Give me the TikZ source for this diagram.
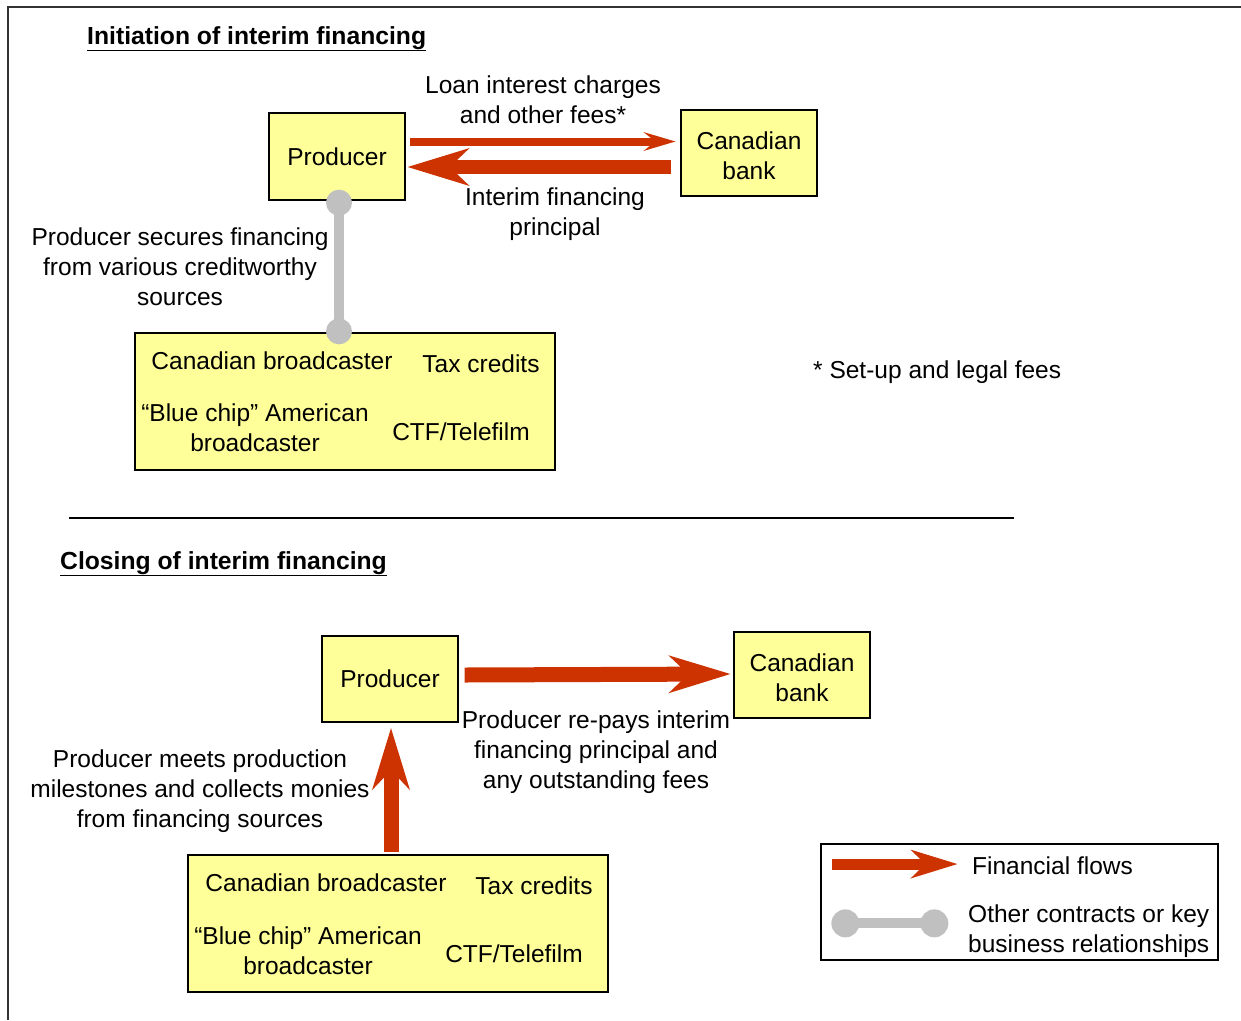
\documentclass[tikz,border=0pt]{standalone}
\usepackage{fontspec}
\setmainfont{Liberation Sans}
\usetikzlibrary{arrows.meta}
\definecolor{boxyellow}{HTML}{FFFF99}
\definecolor{flowred}{HTML}{CC3300}
\definecolor{relgray}{HTML}{C0C0C0}
\definecolor{framegray}{HTML}{333333}
\tikzset{
  box/.style={draw=black, line width=1.3pt, fill=boxyellow, align=center, inner sep=0pt},
  lbl/.style={align=center, inner sep=0pt},
  flowthin/.style={draw=flowred, line width=8pt, -{Stealth[length=32pt, width=19pt, inset=12pt, line width=0pt]}},
  flowthick/.style={draw=flowred, line width=14pt, -{Stealth[length=62pt, width=38pt, inset=20pt, line width=0pt]}},
  flowlegend/.style={draw=flowred, line width=11pt, -{Stealth[length=47pt, width=29pt, inset=15pt, line width=0pt]}},
  rel/.style={draw=relgray, line width=10pt},
  reldot/.style={fill=relgray},
  heading/.style={anchor=base west, inner sep=0pt, font=\fontsize{24.7}{30}\selectfont\bfseries}
}
\begin{document}
\begin{tikzpicture}[x=1pt, y=-1pt, font=\fontsize{24.5}{29.8}\selectfont]
\useasboundingbox (0,0) rectangle (1241,1020);
% frame
\draw[framegray, line width=2pt] (8,1020) -- (8,7) -- (1241,7);

% ---------- Initiation ----------
\node[heading] (t1) at (87,44) {\underline{Initiation of interim financing}};
\node[box, minimum width=136pt, minimum height=87pt] (prodA) at (337,156.5) {Producer};
\node[box, minimum width=136pt, minimum height=86pt] (bankA) at (749,153) {\rule{0pt}{22.5pt}Canadian\\bank};
\node[box, minimum width=420pt, minimum height=137pt] (srcA) at (345,401.5) {};
\node[lbl] (srcA1) at (272,361) {Canadian broadcaster};
\node[lbl] (srcA2) at (481,364) {Tax credits};
\node[lbl] (srcA3) at (255,428) {“Blue chip” American\\broadcaster};
\node[lbl] (srcA4) at (461,432) {CTF/Telefilm};

\node[lbl] (loanlbl) at (543,99.5) {Loan interest charges\\and other fees*};
\node[lbl] (intlbl) at (555,214) {Interim financing\\principal};
\node[lbl] (seclbl) at (180,266.5) {Producer secures financing\\from various creditworthy\\sources};
\node[lbl, anchor=west] (note) at (813,372) {* Set-up and legal fees};

\draw[flowthin] ([shift={(4,-15)}]prodA.east) -- ([shift={(-5,-11.5)}]bankA.west);
\draw[flowthick] ([shift={(-9,14)}]bankA.west) -- ([shift={(2,10.5)}]prodA.east);

\coordinate (g1) at ([shift={(2,2)}]prodA.south);
\coordinate (g2) at ([shift={(-6,-1)}]srcA.north);
\draw[rel] (g1) -- (g2);
\fill[reldot] (g1) circle (13pt);
\fill[reldot] (g2) circle (13pt);

% separator
\draw[black, line width=1.3pt] (69,518) -- (1014,518);

% ---------- Closing ----------
\node[heading] (t2) at (60,569) {\underline{Closing of interim financing}};
\node[box, minimum width=136pt, minimum height=86pt] (prodB) at (390,679) {Producer};
\node[box, minimum width=136pt, minimum height=86pt] (bankB) at (802,675) {\rule{0pt}{22.5pt}Canadian\\bank};
\node[box, minimum width=420pt, minimum height=137pt] (srcB) at (398,923.5) {};
\node[lbl] (srcB1) at (326,883) {Canadian broadcaster};
\node[lbl] (srcB2) at (534,886) {Tax credits};
\node[lbl] (srcB3) at (308,950.5) {“Blue chip” American\\broadcaster};
\node[lbl] (srcB4) at (514,954) {CTF/Telefilm};

\node[lbl] (paylbl) at (596,752) {Producer re-pays interim\\financing principal and\\any outstanding fees};
\node[lbl] (meetlbl) at (200,791) {Producer meets production\\milestones and collects monies\\from financing sources};

\draw[flowthick, line width=15pt] ([shift={(6,-4)}]prodB.east) -- ([shift={(-3,-1)}]bankB.west);
\draw[flowthick, line width=15pt] ([shift={(-7,-2)}]srcB.north) -- ([shift={(1,5.5)}]prodB.south);

% ---------- Legend ----------
\node[draw=black, line width=1.3pt, minimum width=397pt, minimum height=116pt, inner sep=0pt] (legend) at (1019.5,902) {};
\draw[flowlegend] ([shift={(12,20.7)}]legend.north west) -- ([shift={(137,20.7)}]legend.north west);
\coordinate (l1) at ([shift={(25,80)}]legend.north west);
\coordinate (l2) at ([shift={(114,80)}]legend.north west);
\draw[rel] (l1) -- (l2);
\fill[reldot] (l1) circle (14pt);
\fill[reldot] (l2) circle (14pt);
\node[lbl, anchor=west] (leg1) at (972,866) {Financial flows};
\node[lbl, anchor=west, align=left] (leg2) at (968,931) {Other contracts or key\\business relationships};
\end{tikzpicture}
\end{document}
